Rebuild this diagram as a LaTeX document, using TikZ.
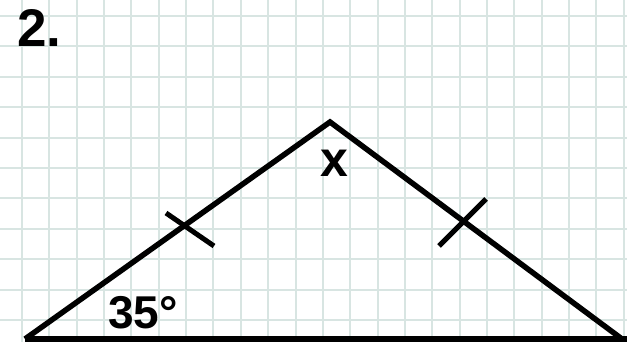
\documentclass[tikz,border=0pt]{standalone}
\usepackage{fontspec}
\setmainfont{Liberation Sans}
\usetikzlibrary{calc}
\definecolor{gridc}{RGB}{216,229,226}
\tikzset{
  gridline/.style={draw=gridc, line width=2pt},
  side/.style={draw=black, line width=5.5pt, line join=miter, line cap=butt},
  tick/.style={draw=black, line width=5pt},
  lbl/.style={font=\bfseries, inner sep=0pt, text=black}
}
\begin{document}
\begin{tikzpicture}[x=1pt,y=-1pt]
\useasboundingbox (0,0) rectangle (627,342);
\fill[white] (0,0) rectangle (627,342);
\foreach \i in {0,...,22} { \draw[gridline] ({22+27.35*\i},0) -- ({22+27.35*\i},342); }
\foreach \j in {0,...,10} { \draw[gridline] (0,{16+30.4*\j}) -- (627,{16+30.4*\j}); }
\coordinate (A) at (25,339);
\coordinate (B) at (330,122);
\coordinate (C) at (627,339);
\coordinate (Cend) at (622,339);
\draw[side] (A) -- (B) -- (Cend);
\draw[side] (A) -- (C);
\coordinate (t1a) at (166,213);
\coordinate (t1b) at (214,246);
\coordinate (t2a) at (439,246);
\coordinate (t2b) at (486,199);
\draw[tick] (t1a) -- (t1b);
\draw[tick] (t2a) -- (t2b);
\node[lbl, font=\fontsize{53}{53}\bfseries, anchor=base west] (n) at (17,47) {2.};
\node[lbl, font=\fontsize{50}{50}\bfseries, anchor=base] (x) at (334.5,177) {x};
\node[lbl, font=\fontsize{46}{46}\bfseries, anchor=base west] (ang) at (108,328) {35°};
\end{tikzpicture}
\end{document}
